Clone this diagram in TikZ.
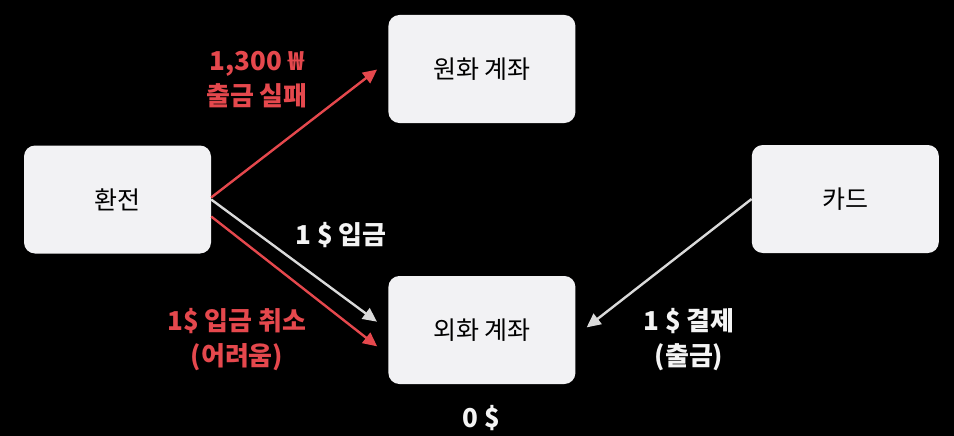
\documentclass[tikz,border=0pt]{standalone}
\usepackage{fontspec}
\setmainfont{Noto Sans CJK KR}
\usetikzlibrary{arrows.meta, positioning}
\definecolor{boxfill}{HTML}{F2F2F4}
\definecolor{warn}{HTML}{E5484D}
\definecolor{flow}{HTML}{DADADA}
\definecolor{ink}{HTML}{F4F4F4}

\begin{document}
\begin{tikzpicture}[x=1pt, y=-1pt,
  acct/.style={fill=boxfill, rounded corners=11pt, minimum width=187pt,
    minimum height=108pt, text=black, font=\fontsize{25}{30}\selectfont},
  tag/.style={align=center, font=\bfseries\fontsize{26}{35}\selectfont},
  flowarrow/.style={line width=2.4pt, -{Triangle[length=14pt,width=13pt]},
    shorten >=14pt}]
  % Background
  \fill[black] (0,0) rectangle (954,436);
  \useasboundingbox (0,0) rectangle (954,436);
  % Accounts
  \node[acct] (fx) at (117.5,199.5) {환전};
  \node[acct, right=177pt of fx, yshift=130.5pt] (krw) {원화 계좌};
  \node[acct, right=177pt of fx, yshift=-130.5pt] (usd) {외화 계좌};
  \node[acct, right=176pt of usd, yshift=131pt] (card) {카드};
  % Arrows
  \draw[flowarrow, warn] ([yshift=2pt]fx.east) -- ([yshift=8pt]krw.west);
  \draw[flowarrow, flow] (fx.east) -- (usd.west);
  \draw[flowarrow, warn] ([yshift=-17pt]fx.east) -- ([yshift=-25pt]usd.west);
  \draw[flowarrow, flow] (card.west) -- ([yshift=-6pt]usd.east);
  % Labels
  \node[tag, text=warn] (fail) at (257,80) {1,300 ₩\\출금 실패};
  \node[tag, text=ink] (dep) at (341,235) {1 \$ 입금};
  \node[tag, text=warn] (cancel) at (237,340) {1\$ 입금 취소\\(어려움)};
  \node[tag, text=ink] (pay) at (689,340) {1 \$ 결제\\(출금)};
  \node[tag, text=ink] (bal) at (481.5,418) {0 \$};
\end{tikzpicture}
\end{document}
